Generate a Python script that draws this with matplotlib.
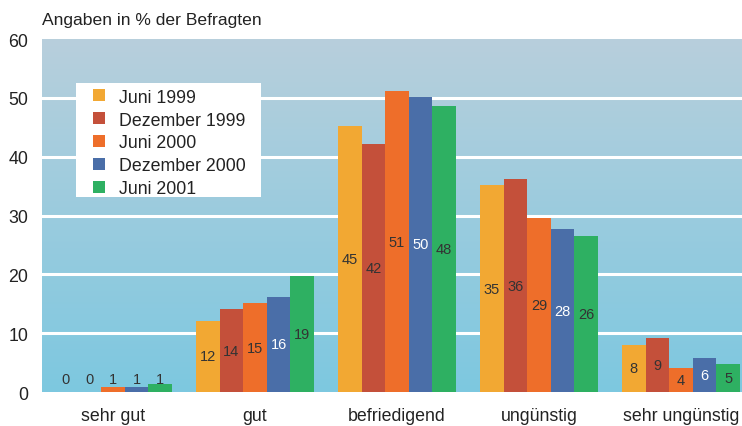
import matplotlib.pyplot as plt
import numpy as np
from matplotlib.colors import LinearSegmentedColormap
from matplotlib.patches import Rectangle

plt.rcParams['font.family'] = ['Liberation Sans', 'DejaVu Sans']

categories = ['sehr gut', 'gut', 'befriedigend', 'ungünstig', 'sehr ungünstig']
series = ['Juni 1999', 'Dezember 1999', 'Juni 2000', 'Dezember 2000', 'Juni 2001']
# bar heights as drawn, and the printed labels
values = [
    [0.0, 12.1, 45.2, 35.2, 8.0],
    [0.0, 14.1, 42.2, 36.2, 9.1],
    [0.8, 15.1, 51.1, 29.6, 4.0],
    [0.8, 16.2, 50.2, 27.7, 5.7],
    [1.3, 19.7, 48.6, 26.5, 4.8],
]
labels = [
    [0, 12, 45, 35, 8],
    [0, 14, 42, 36, 9],
    [1, 15, 51, 29, 4],
    [1, 16, 50, 28, 6],
    [1, 19, 48, 26, 5],
]
colors = ['#F2A833', '#C4503A', '#EE6E2A', '#4A6EA8', '#2EB062']
label_colors = ['#333333', '#333333', '#333333', 'white', '#333333']

fig = plt.figure(figsize=(7.42, 4.27), dpi=100)
ax = fig.add_axes([0.0566, 0.0796, 0.9434, 0.8264])

# background gradient
cmap = LinearSegmentedColormap.from_list('bg', ['#7DC8E0', '#B8CFDC'])
grad = np.linspace(0, 1, 256).reshape(-1, 1)
ax.imshow(grad, aspect='auto', cmap=cmap, origin='lower',
          extent=[-0.5, 4.43, 0, 60], zorder=0)

for y in [10, 20, 30, 40, 50]:
    ax.axhline(y, color='white', lw=2.2, zorder=1)

x = np.arange(len(categories))
w = 0.166
for i in range(len(series)):
    xs = x + (i - 2) * w
    ax.bar(xs, values[i], width=w, color=colors[i], label=series[i], zorder=2)
    for xx, v, lab in zip(xs, values[i], labels[i]):
        inside = v > 3.5
        ly = v / 2 if inside else 2.2
        c = label_colors[i] if inside else '#333333'
        ax.text(xx, ly, str(lab), ha='center', va='center', fontsize=10.5,
                color=c, zorder=3)

ax.set_xlim(-0.5, 4.43)
ax.set_ylim(0, 60)
ax.set_yticks([0, 10, 20, 30, 40, 50, 60])
ax.set_xticks(x)
ax.set_xticklabels(categories)
ax.tick_params(length=0, labelsize=12.8, colors='#222222')
ax.tick_params(axis='y', pad=10)
ax.tick_params(axis='x', pad=11)
for s in ax.spines.values():
    s.set_visible(False)

fig.text(0.0566, 0.953, 'Angaben in % der Befragten', fontsize=12.6,
         color='#222222', va='center')

# white legend box
fig.patches.append(Rectangle((0.1024, 0.536), 0.2494, 0.267, facecolor='white',
                             edgecolor='none', transform=fig.transFigure,
                             zorder=4))
leg = fig.legend(*ax.get_legend_handles_labels(), loc='upper left',
                 bbox_to_anchor=(93 / 742, 0.79), fontsize=12.8,
                 frameon=False, handlelength=0.67, handleheight=0.67,
                 labelspacing=0.33, borderpad=0, handletextpad=0.8,
                 borderaxespad=0)
for t in leg.get_texts():
    t.set_color('#222222')
leg.set_zorder(5)

fig.savefig('out.png', dpi=100)
